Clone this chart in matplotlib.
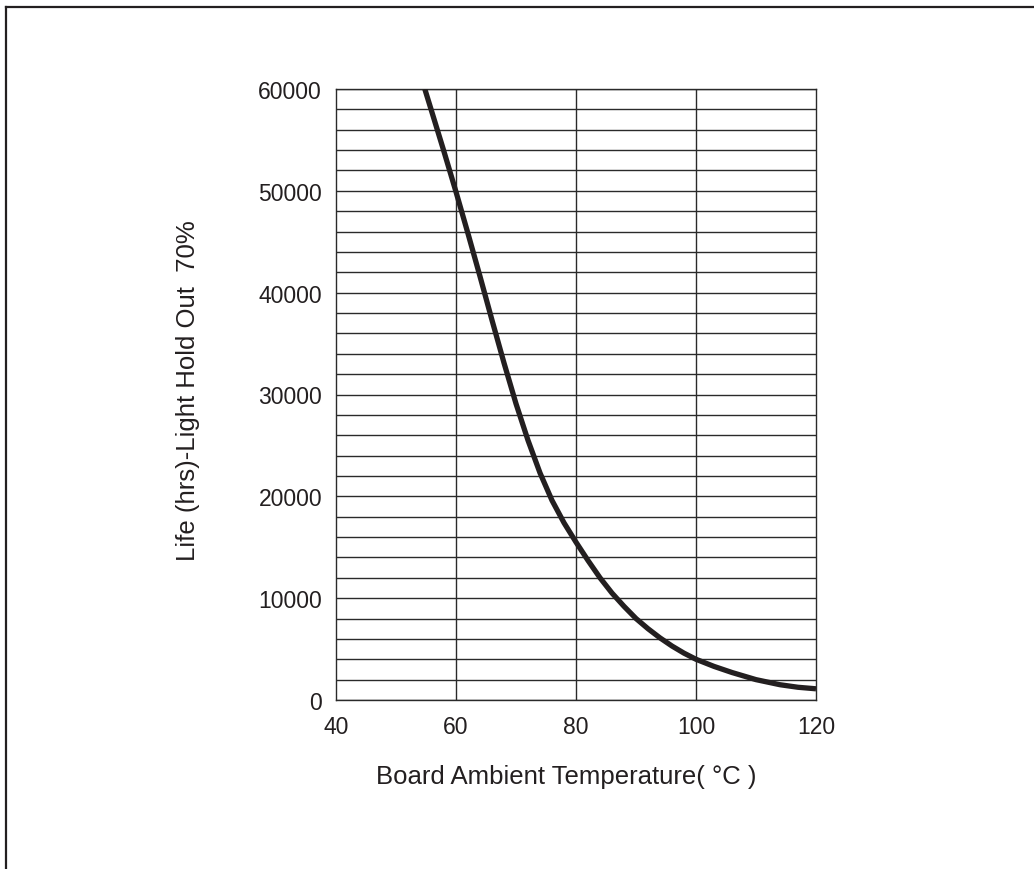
import matplotlib
matplotlib.use("Agg")
import matplotlib.pyplot as plt
from matplotlib.lines import Line2D

temps = [54.8, 56, 58, 60, 62, 64, 66, 68, 70, 72, 74, 76, 78, 80, 82, 84, 86, 88, 90,
         92, 94, 96, 98, 100, 103, 106, 110, 114, 117, 120]
life = [60000, 57700, 53850, 49900, 45800, 41600, 37300, 33100, 29100, 25500, 22300, 19600,
        17400, 15500, 13700, 12000, 10500, 9200, 8000, 7000, 6100, 5300, 4600, 4000, 3300,
        2700, 2000, 1500, 1250, 1100]
x_ticks = [40, 60, 80, 100, 120]
y_ticks = [0, 10000, 20000, 30000, 40000, 50000, 60000]
y_grid = list(range(0, 60001, 2000))
x_label = 'Board Ambient Temperature( °C )'
y_label = 'Life (hrs)-Light Hold Out  70%'

plt.rcParams['font.family'] = ['Liberation Sans', 'DejaVu Sans']

W, H = 1034, 870
fig = plt.figure(figsize=(W/100, H/100), dpi=100)
ax = fig.add_axes([336/W, 1-701/H, 480/W, 611/H])

gc = '#2a2a2a'
tc = '#231f20'
for y in y_grid:
    ax.axhline(y, color=gc, lw=1.0, zorder=1)
for x in x_ticks[1:-1]:
    ax.axvline(x, color=gc, lw=1.0, zorder=1)

ax.plot(temps, life, color=tc, lw=3.8, solid_capstyle='butt', solid_joinstyle='round', zorder=3)

ax.set_xlim(40, 120)
ax.set_ylim(0, 60000)
ax.set_xticks(x_ticks)
ax.set_yticks(y_ticks)
ax.set_xticklabels([str(v) for v in x_ticks])
ax.set_yticklabels([str(v) for v in y_ticks])
ax.tick_params(length=0, labelsize=16.5, colors=tc)
ax.tick_params(axis='x', pad=11)
ax.tick_params(axis='y', pad=10)
for s in ax.spines.values():
    s.set_color(gc)
    s.set_linewidth(1.0)

fig.text(566/W, 1-777/H, x_label, fontsize=18.5, color=tc, ha='center', va='center')
fig.text(188/W, 1-391/H, y_label, fontsize=18.5, color=tc, ha='center', va='center', rotation=90)

fig.add_artist(Line2D([6/W, 6/W], [0, 1-8/H], transform=fig.transFigure, color=tc, lw=1.6))
fig.add_artist(Line2D([6/W, 1], [1-8/H, 1-8/H], transform=fig.transFigure, color=tc, lw=1.6))

fig.savefig('out.png', dpi=100)
